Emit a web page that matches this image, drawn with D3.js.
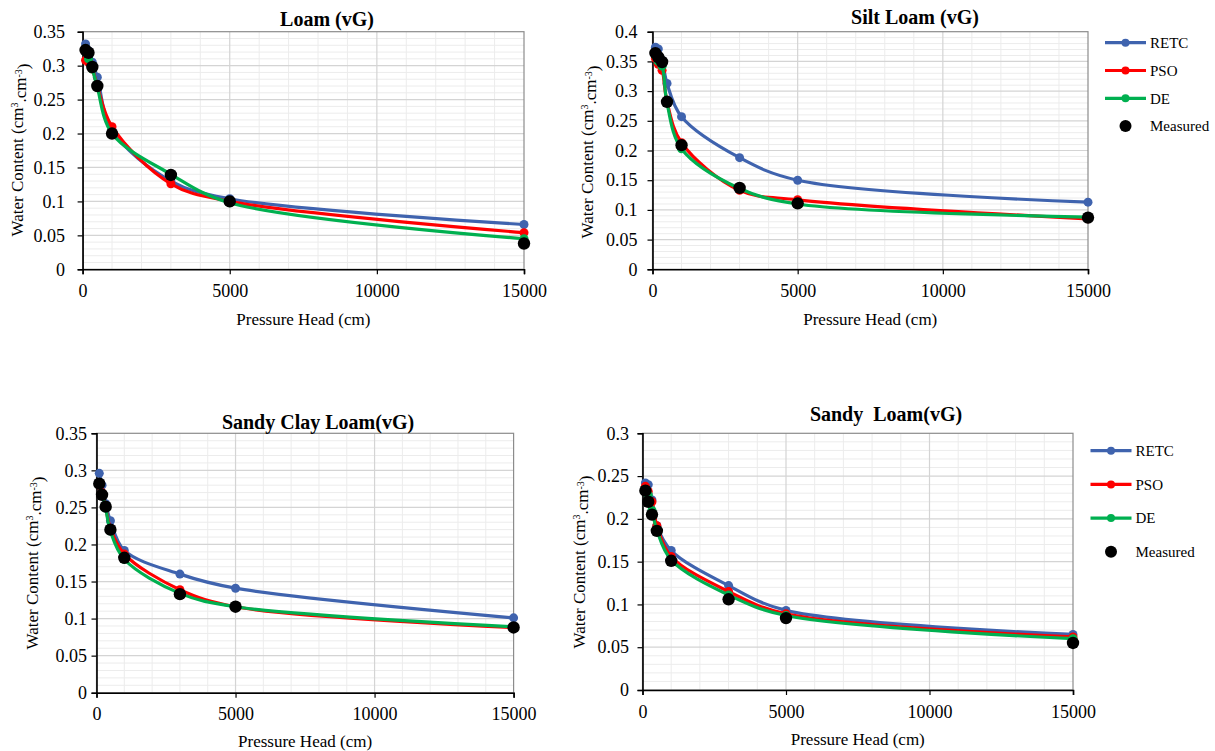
<!DOCTYPE html>
<html>
<head>
<meta charset="utf-8">
<script src="https://cdn.jsdelivr.net/npm/d3@7"></script>
<style>
  body { margin: 0; background: #fff; }
  svg, svg text { font-family: "Liberation Serif", "Times New Roman", serif; }
  svg { display: block; }
</style>
</head>
<body>
<div id="chart"></div>
<script>
const pressureHead = [100, 200, 330, 500, 1000, 3000, 5000, 15000];
const seriesNames = ["RETC", "PSO", "DE", "Measured"];
const xTicks = [0, 5000, 10000, 15000];

const loamRetc = [0.332, 0.322, 0.305, 0.283, 0.205, 0.13, 0.104, 0.066];
const loamPso = [0.308, 0.305, 0.295, 0.27, 0.21, 0.126, 0.1, 0.054];
const loamDe = [0.325, 0.31, 0.295, 0.268, 0.2, 0.14, 0.098, 0.045];
const loamMeasured = [0.323, 0.319, 0.298, 0.27, 0.2, 0.139, 0.1, 0.038];

const siltRetc = [0.374, 0.371, 0.352, 0.313, 0.257, 0.188, 0.15, 0.113];
const siltPso = [0.355, 0.345, 0.335, 0.282, 0.213, 0.133, 0.117, 0.085];
const siltDe = [0.36, 0.35, 0.342, 0.28, 0.203, 0.136, 0.11, 0.088];
const siltMeasured = [0.364, 0.357, 0.349, 0.282, 0.209, 0.137, 0.111, 0.087];

const sclRetc = [0.296, 0.28, 0.255, 0.232, 0.192, 0.16, 0.141, 0.101];
const sclPso = [0.28, 0.27, 0.25, 0.222, 0.187, 0.139, 0.116, 0.088];
const sclDe = [0.281, 0.268, 0.249, 0.218, 0.18, 0.134, 0.116, 0.089];
const sclMeasured = [0.282, 0.267, 0.251, 0.22, 0.182, 0.133, 0.116, 0.088];

const sandyRetc = [0.242, 0.24, 0.222, 0.192, 0.163, 0.122, 0.093, 0.065];
const sandyPso = [0.238, 0.232, 0.22, 0.192, 0.156, 0.115, 0.089, 0.062];
const sandyDe = [0.232, 0.228, 0.21, 0.187, 0.152, 0.111, 0.087, 0.06];
const sandyMeasured = [0.233, 0.22, 0.205, 0.186, 0.151, 0.106, 0.084, 0.055];

const colors = ["#3f63ae", "#ff0000", "#00b050", "#000000"];
const serif = '"Liberation Serif", "Times New Roman", serif';

const panels = [
  { title: "Loam (vG)", yMax: 0.35, series: [loamRetc, loamPso, loamDe, loamMeasured],
    left: 82.6, right: 524, top: 31.7, bottom: 269.3, yPad: 12.5,
    titleX: 327, titleY: 26, xLabelY: 325, yLabelX: 17, yLabelY: 150, legend: null },
  { title: "Silt Loam (vG)", yMax: 0.4, series: [siltRetc, siltPso, siltDe, siltMeasured],
    left: 652.5, right: 1088, top: 31.7, bottom: 269.3, yPad: 10,
    titleX: 915, titleY: 24, xLabelY: 325, yLabelX: 587, yLabelY: 152,
    legend: { x: 1105, y: 42.7, step: 27.8 } },
  { title: "Sandy Clay Loam(vG)", yMax: 0.35, series: [sclRetc, sclPso, sclDe, sclMeasured],
    left: 96.5, right: 513.6, top: 433.3, bottom: 692.7, yPad: 4.5,
    titleX: 318, titleY: 429, xLabelY: 746.5, yLabelX: 32, yLabelY: 563, legend: null },
  { title: "Sandy  Loam(vG)", yMax: 0.3, series: [sandyRetc, sandyPso, sandyDe, sandyMeasured],
    left: 642.5, right: 1073, top: 433.3, bottom: 690, yPad: 8.5,
    titleX: 886, titleY: 421, xLabelY: 745, yLabelX: 579, yLabelY: 562,
    legend: { x: 1090.5, y: 450.7, step: 33.7 } }
];

const svg = d3.select("#chart").append("svg")
  .attr("width", 1215)
  .attr("height", 751)
  .attr("font-family", serif);

const fmtY = (d) => String(+d.toFixed(2));

panels.forEach((p) => {
  const g = svg.append("g");
  const x = d3.scaleLinear().domain([0, 15000]).range([p.left, p.right]);
  const y = d3.scaleLinear().domain([0, p.yMax]).range([p.bottom, p.top]);

  // minor grid
  const minorX = d3.range(1000, 15000, 1000).filter((v) => v % 5000 !== 0);
  const minorY = d3.range(0.01, p.yMax - 0.001, 0.01).filter((v) => Math.abs(v / 0.05 - Math.round(v / 0.05)) > 0.01);
  g.selectAll(".mx").data(minorX).enter().append("line")
    .attr("x1", (d) => x(d)).attr("x2", (d) => x(d))
    .attr("y1", p.top).attr("y2", p.bottom)
    .attr("stroke", "#ececec").attr("stroke-width", 1);
  g.selectAll(".my").data(minorY).enter().append("line")
    .attr("x1", p.left).attr("x2", p.right)
    .attr("y1", (d) => y(d)).attr("y2", (d) => y(d))
    .attr("stroke", "#ececec").attr("stroke-width", 1);

  // major grid
  const majorY = d3.range(0.05, p.yMax - 0.001, 0.05);
  g.selectAll(".Mx").data([5000, 10000]).enter().append("line")
    .attr("x1", (d) => x(d)).attr("x2", (d) => x(d))
    .attr("y1", p.top).attr("y2", p.bottom)
    .attr("stroke", "#d4d4d4").attr("stroke-width", 1.2);
  g.selectAll(".My").data(majorY).enter().append("line")
    .attr("x1", p.left).attr("x2", p.right)
    .attr("y1", (d) => y(d)).attr("y2", (d) => y(d))
    .attr("stroke", "#d4d4d4").attr("stroke-width", 1.2);

  // plot border
  g.append("rect")
    .attr("x", p.left).attr("y", p.top)
    .attr("width", p.right - p.left).attr("height", p.bottom - p.top)
    .attr("fill", "none").attr("stroke", "#8c8c8c").attr("stroke-width", 1.2);

  // axes
  const yAxis = g.append("g")
    .attr("transform", `translate(${p.left},0)`)
    .call(d3.axisLeft(y).tickValues(d3.range(0, p.yMax + 0.001, 0.05)).tickFormat(fmtY).tickSize(5).tickPadding(p.yPad));
  const xAxis = g.append("g")
    .attr("transform", `translate(0,${p.bottom})`)
    .call(d3.axisBottom(x).tickValues(xTicks).tickFormat(d3.format("d")).tickSize(5).tickPadding(10));
  [xAxis, yAxis].forEach((a) => {
    a.attr("font-family", serif).attr("font-size", 18);
    a.select(".domain").attr("stroke", "#000").attr("stroke-width", 1.6);
    a.selectAll(".tick line").attr("stroke", "#000").attr("stroke-width", 1.2);
    a.selectAll(".tick text").attr("fill", "#000");
  });

  // series
  const line = d3.line()
    .x((d) => x(d[0]))
    .y((d) => y(d[1]))
    .curve(d3.curveCatmullRom.alpha(0.5));

  p.series.forEach((vals, i) => {
    const pts = pressureHead.map((h, j) => [h, vals[j]]);
    if (i < 3) {
      g.append("path")
        .datum(pts)
        .attr("d", line)
        .attr("fill", "none")
        .attr("stroke", colors[i])
        .attr("stroke-width", 3.2);
    }
    g.selectAll(".pt" + i).data(pts).enter().append("circle")
      .attr("cx", (d) => x(d[0]))
      .attr("cy", (d) => y(d[1]))
      .attr("r", i < 3 ? 4.5 : 6.2)
      .attr("fill", colors[i]);
  });

  // title
  g.append("text")
    .attr("x", p.titleX).attr("y", p.titleY)
    .attr("text-anchor", "middle")
    .attr("font-size", 20)
    .attr("font-weight", "bold")
    .style("white-space", "pre")
    .text(p.title);

  // x label
  g.append("text")
    .attr("x", (p.left + p.right) / 2).attr("y", p.xLabelY)
    .attr("text-anchor", "middle")
    .attr("font-size", 17)
    .text("Pressure Head (cm)");

  // y label
  const yl = g.append("text")
    .attr("transform", `translate(${p.yLabelX},${p.yLabelY}) rotate(-90)`)
    .attr("text-anchor", "middle")
    .attr("dy", "0.35em")
    .attr("font-size", 17);
  yl.append("tspan").text("Water Content (cm");
  yl.append("tspan").attr("dy", "-0.45em").attr("font-size", 10).text("3");
  yl.append("tspan").attr("dy", "0.45em").text(".cm");
  yl.append("tspan").attr("dy", "-0.45em").attr("font-size", 10).text("-3");
  yl.append("tspan").attr("dy", "0.45em").text(")");

  // legend
  if (p.legend) {
    const lg = g.append("g");
    seriesNames.forEach((name, i) => {
      const ly = p.legend.y + i * p.legend.step;
      if (i < 3) {
        lg.append("line")
          .attr("x1", p.legend.x).attr("x2", p.legend.x + 41)
          .attr("y1", ly).attr("y2", ly)
          .attr("stroke", colors[i]).attr("stroke-width", 3.2);
      }
      lg.append("circle")
        .attr("cx", p.legend.x + 20.5).attr("cy", ly)
        .attr("r", i < 3 ? 4 : 6)
        .attr("fill", colors[i]);
      lg.append("text")
        .attr("x", p.legend.x + 45).attr("y", ly)
        .attr("dy", "0.35em")
        .attr("font-size", 15)
        .text(name);
    });
  }
});
</script>
</body>
</html>
